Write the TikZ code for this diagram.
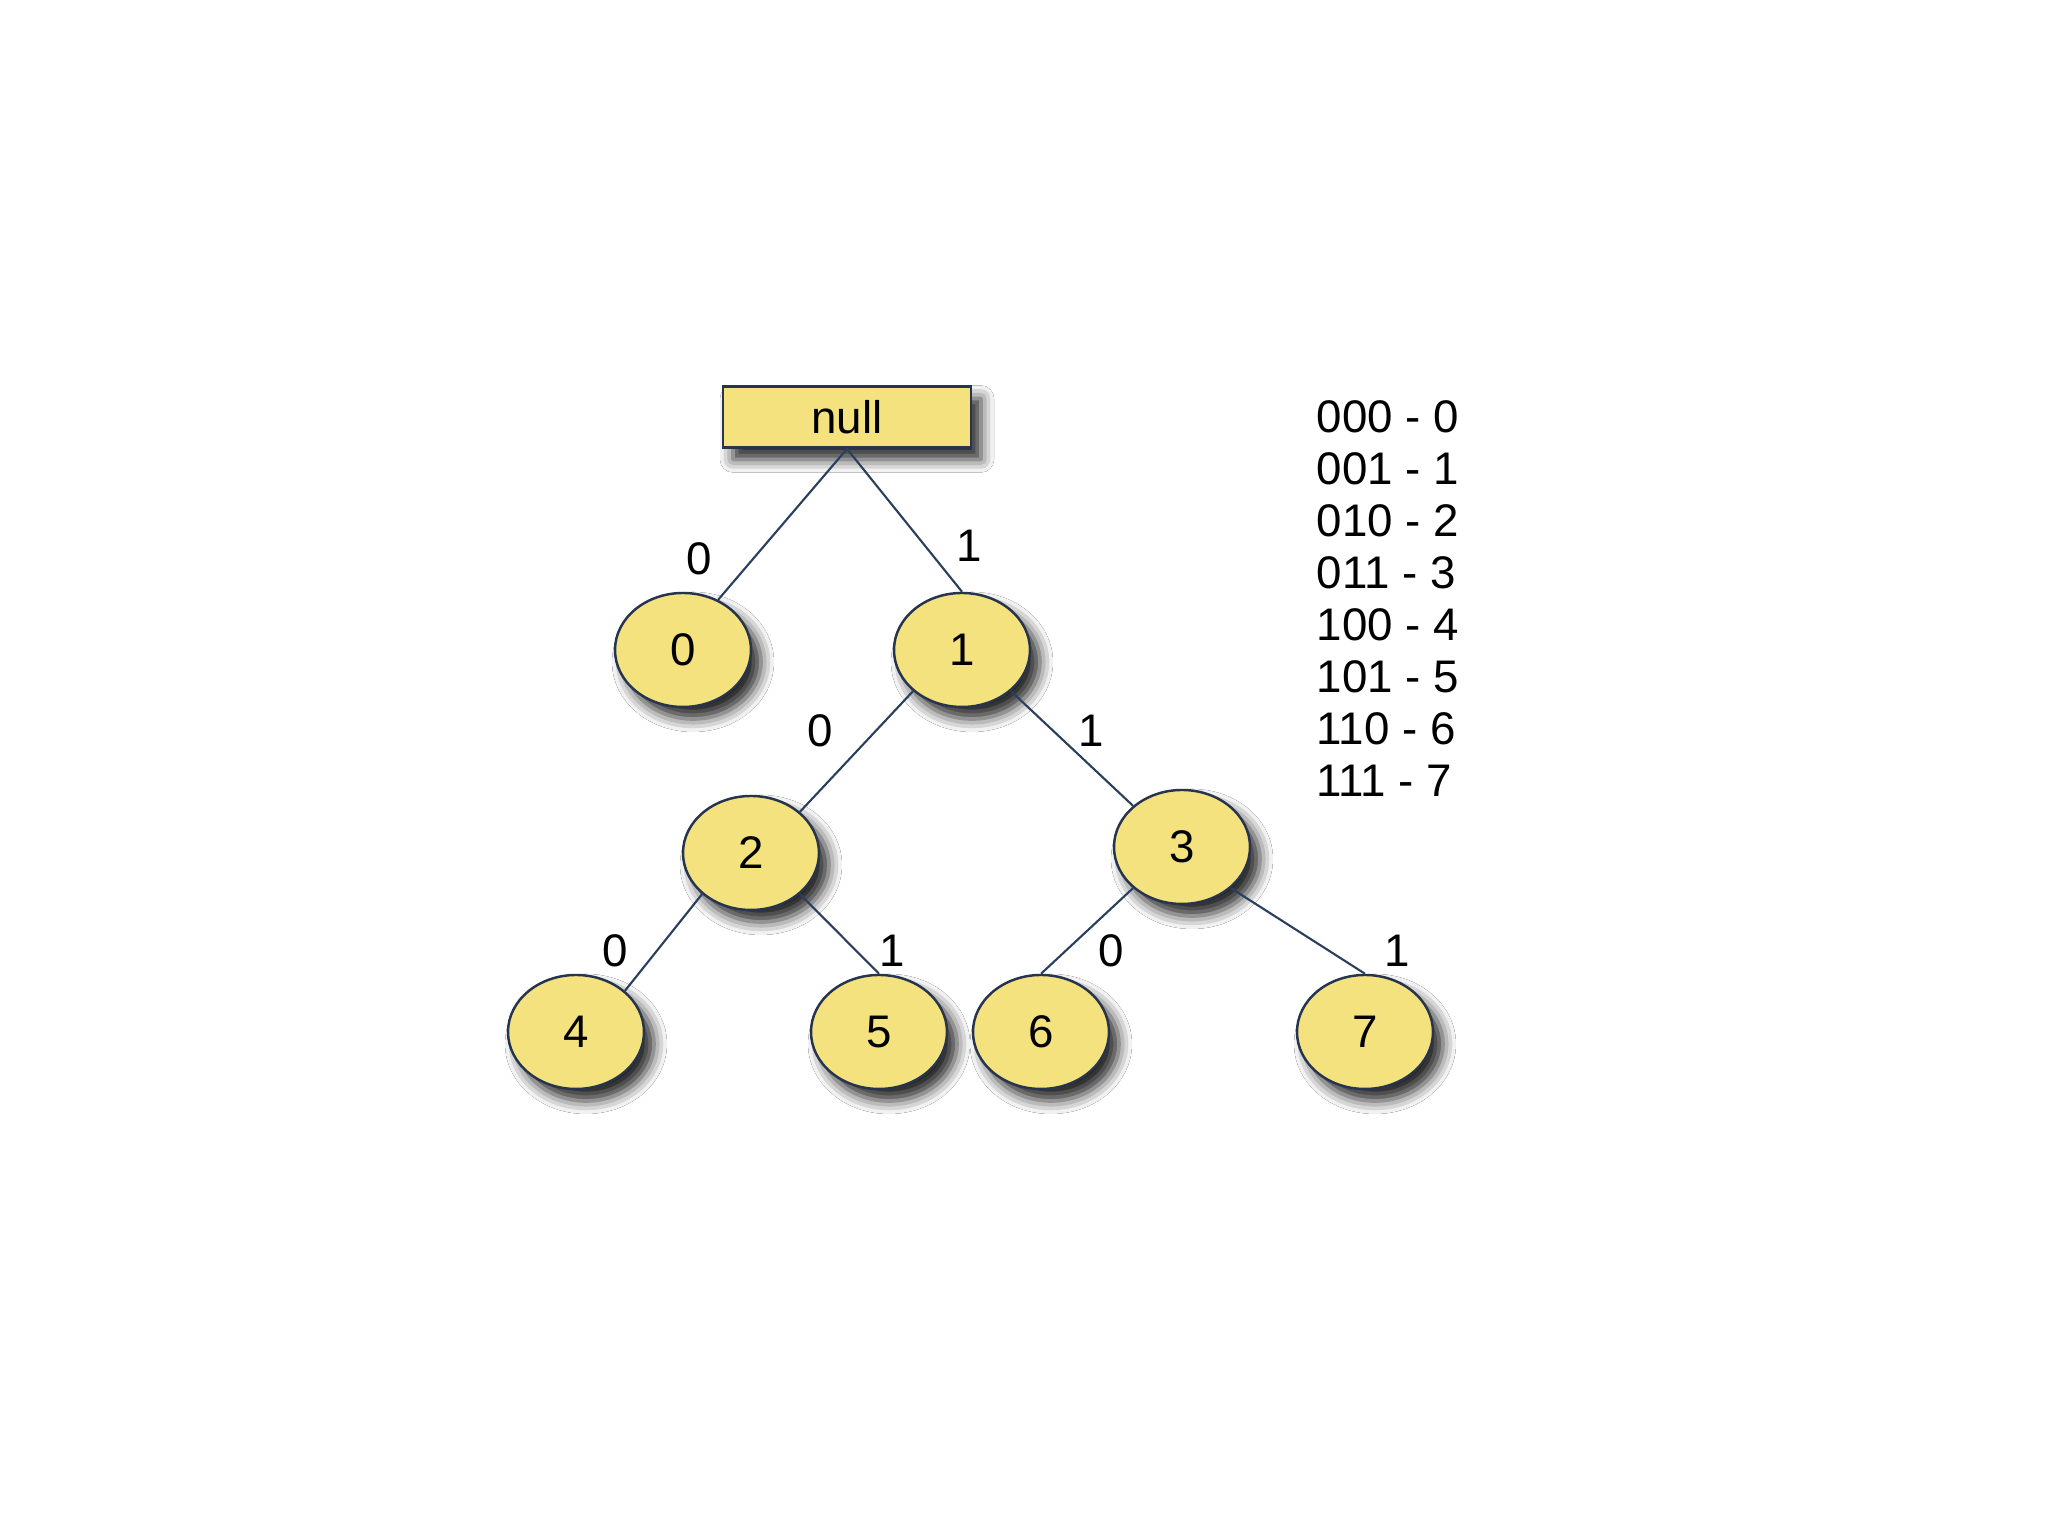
\documentclass[tikz,border=0pt]{standalone}
\usepackage{fontspec}
\setmainfont{Liberation Sans}
\usepackage{xcolor}
\usepackage{tikz}
\usetikzlibrary{shapes.geometric,shadows.blur}
\definecolor{Fill}{HTML}{F4E27E}
\definecolor{Rim}{HTML}{26344E}
\definecolor{Wire}{HTML}{2A3F5E}

\begin{document}
\begin{tikzpicture}[
  leaf/.style={ellipse,draw=Rim,line width=0.7pt,fill=Fill,inner sep=0pt,minimum width=1.36cm,minimum height=1.14cm,font=\fontsize{13}{15}\selectfont,
    blur shadow={shadow xshift=0.1cm,shadow yshift=-0.12cm,shadow blur radius=0.13cm,shadow opacity=85}},
  root/.style={rectangle,draw=Rim,line width=0.8pt,fill=Fill,inner sep=0pt,minimum width=2.48cm,minimum height=0.61cm,font=\fontsize{13}{15}\selectfont,
    blur shadow={shadow xshift=0.1cm,shadow yshift=-0.12cm,shadow blur radius=0.13cm,shadow opacity=85}},
  bit/.style={font=\fontsize{13}{15}\selectfont,inner sep=0pt},
  edge/.style={draw=Wire,line width=0.6pt}
]
  \fill[white] (0,0) rectangle (20.48,15.36);
  \useasboundingbox (0,0) rectangle (20.48,15.36);
  \node[root] (null) at (8.47,11.19) {null};
  \node[leaf] (n0) at (6.83,8.86) {0};
  \node[leaf] (n1) at (9.62,8.86) {1};
  \node[leaf] (n2) at (7.51,6.83) {2};
  \node[leaf] (n3) at (11.82,6.89) {3};
  \node[leaf] (n4) at (5.76,5.04) {4};
  \node[leaf] (n5) at (8.79,5.04) {5};
  \node[leaf] (n6) at (10.41,5.04) {6};
  \node[leaf] (n7) at (13.65,5.04) {7};
  \draw[edge] (null.south) -- (n0.55);
  \draw[edge] (null.south) -- (n1.north);
  \draw[edge] (n1.south west) -- (n2.north east);
  \draw[edge] (n1.south east) -- (n3.north west);
  \draw[edge] (n2.south west) -- (n4.north east);
  \draw[edge] (n2.south east) -- (n5.north);
  \draw[edge] (n3.south west) -- (n6.north);
  \draw[edge] (n3.south east) -- (n7.north);
  \node[bit] (b0) at (6.99,9.77) {0};
  \node[bit] (b1) at (9.69,9.90) {1};
  \node[bit] (b10) at (8.20,8.05) {0};
  \node[bit] (b11) at (10.91,8.05) {1};
  \node[bit] (b20) at (6.15,5.85) {0};
  \node[bit] (b21) at (8.92,5.85) {1};
  \node[bit] (b30) at (11.11,5.85) {0};
  \node[bit] (b31) at (13.97,5.85) {1};
  \node[bit,anchor=west,align=left,font=\fontsize{13}{14.8}\selectfont] (codes) at (13.16,9.37)
    {000 - 0\\001 - 1\\010 - 2\\011 - 3\\100 - 4\\101 - 5\\110 - 6\\111 - 7};
\end{tikzpicture}
\end{document}
